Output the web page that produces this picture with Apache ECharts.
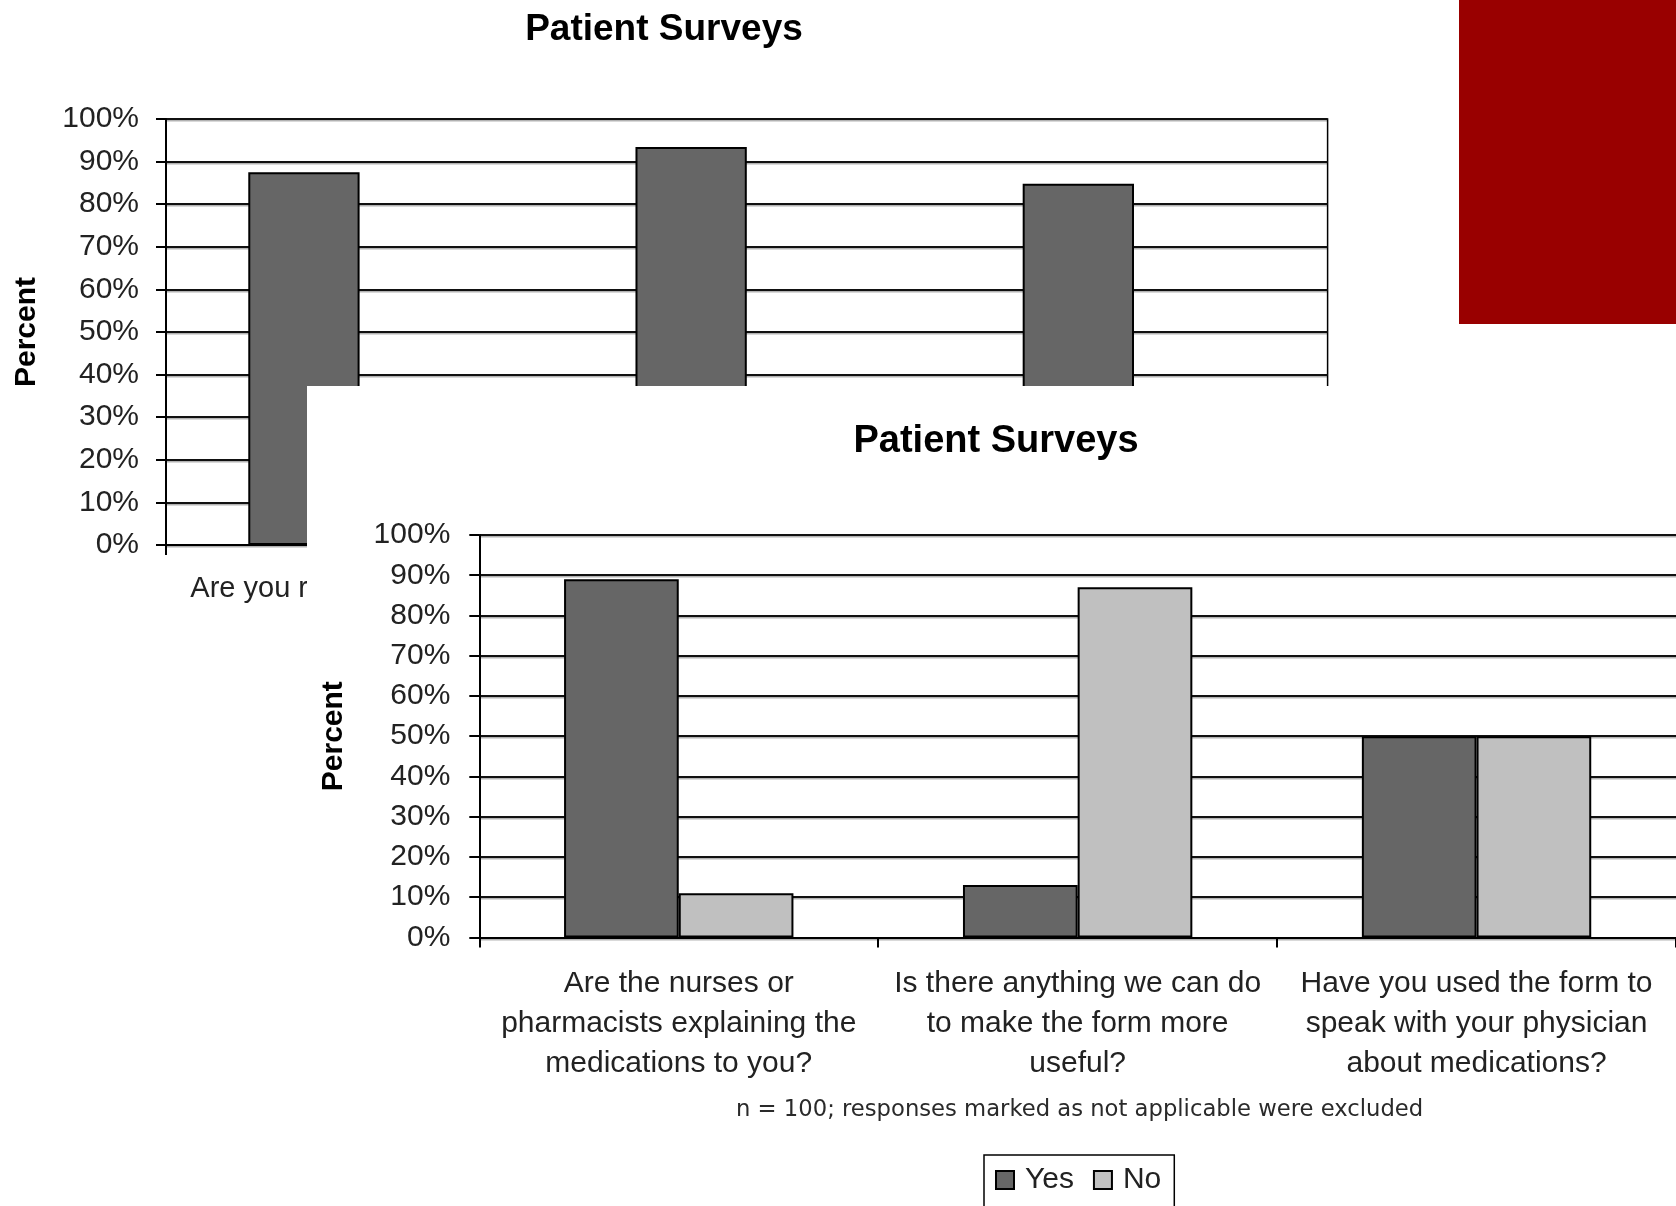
<!DOCTYPE html>
<html>
<head>
<meta charset="utf-8">
<title>Patient Surveys</title>
<script src="https://cdn.jsdelivr.net/npm/echarts@6/dist/echarts.min.js"></script>
<style>
  html, body { margin: 0; padding: 0; background: #fff; }
  body { width: 1676px; height: 1206px; position: relative; overflow: hidden; }
  #back { position: absolute; left: 0; top: 0; width: 1676px; height: 1206px; }
  #front { position: absolute; left: 307px; top: 386px; width: 1369px; height: 820px; background: #fff; }
</style>
</head>
<body>
<div id="back"></div>
<div id="front"></div>
<script>
// Earlier survey slide (partly covered by the newer one)
const backCategories = [
  'Are you receiving the form',
  'Is the form easy to read',
  'Do you find the form helpful'
];
const backYes = [87.5, 93.4, 84.8];
const backNo = [12.5, 6.6, 15.2];

// Current survey slide
const frontCategories = [
  'Are the nurses or\npharmacists explaining the\nmedications to you?',
  'Is there anything we can do\nto make the form more\nuseful?',
  'Have you used the form to\nspeak with your physician\nabout medications?'
];
const frontYes = [89, 13, 50];
const frontNo = [11, 87, 50];

const seriesNames = ['Yes', 'No'];
const chartTitle = 'Patient Surveys';
const axisName = 'Percent';
const footnote = 'n = 100; responses marked as not applicable were excluded';

const FONT = '"Liberation Sans", Arial, sans-serif';
const YES_COLOR = '#666666';
const NO_COLOR = '#c0c0c0';

function barSeries(name, data, color) {
  return {
    type: 'bar',
    name: name,
    data: data,
    barGap: '0%',
    barCategoryGap: '42.5%',
    itemStyle: { color: color, borderColor: '#000', borderWidth: 2 }
  };
}

function valueAxis(labelMargin, nameGap) {
  return {
    type: 'value',
    min: 0,
    max: 100,
    interval: 10,
    axisLine: { show: true, lineStyle: { color: '#000', width: 2 } },
    axisTick: { show: true, length: 10, lineStyle: { color: '#000', width: 2 } },
    axisLabel: { formatter: '{value}%', margin: labelMargin, fontSize: 30, color: '#222', fontFamily: FONT },
    splitLine: {
      show: true,
      lineStyle: { color: '#111', width: 2.2, shadowColor: 'rgba(0,0,0,0.3)', shadowOffsetY: 1.5 }
    },
    name: axisName,
    nameLocation: 'middle',
    nameRotate: 90,
    nameGap: nameGap,
    nameTextStyle: { fontSize: 30, fontWeight: 'bold', color: '#000', fontFamily: FONT }
  };
}

function categoryAxis(cats, labelMargin, fontSize) {
  return {
    type: 'category',
    data: cats,
    axisLine: { show: true, lineStyle: { color: '#000', width: 2 } },
    axisTick: { show: true, length: 10, lineStyle: { color: '#000', width: 2 } },
    axisLabel: { interval: 0, margin: labelMargin, fontSize: fontSize, lineHeight: 40, color: '#222', fontFamily: FONT }
  };
}

const back = echarts.init(document.getElementById('back'), null, { renderer: 'canvas' });
back.setOption({
  animation: false,
  backgroundColor: '#fff',
  title: {
    text: chartTitle,
    left: 659,
    top: 6,
    textAlign: 'center',
    textStyle: { fontSize: 37, fontWeight: 'bold', color: '#000', fontFamily: FONT }
  },
  grid: {
    left: 166, top: 119, width: 1161.6, height: 426,
    show: true, borderColor: '#000', borderWidth: 1.5, backgroundColor: 'transparent'
  },
  xAxis: categoryAxis(backCategories, 24, 29),
  yAxis: valueAxis(27, 124),
  series: [
    barSeries(seriesNames[0], backYes, YES_COLOR),
    barSeries(seriesNames[1], backNo, NO_COLOR)
  ],
  graphic: [{
    type: 'rect',
    shape: { x: 1459, y: 0, width: 217, height: 324 },
    style: { fill: '#990000' }
  }]
});

const front = echarts.init(document.getElementById('front'), null, { renderer: 'canvas' });
front.setOption({
  animation: false,
  backgroundColor: '#fff',
  title: {
    text: chartTitle,
    left: 684,
    top: 32,
    textAlign: 'center',
    textStyle: { fontSize: 38, fontWeight: 'bold', color: '#000', fontFamily: FONT }
  },
  legend: {
    data: seriesNames,
    left: 677,
    top: 769,
    icon: 'rect',
    itemWidth: 18,
    itemHeight: 18,
    itemGap: 19,
    padding: [10, 13, 14, 11],
    borderColor: '#000',
    borderWidth: 1.5,
    textStyle: { fontSize: 30, color: '#222', fontFamily: FONT, padding: [0, 0, 0, 6] }
  },
  grid: { left: 172.3, top: 149, width: 1200, height: 402.4 },
  xAxis: categoryAxis(frontCategories, 26, 30),
  yAxis: valueAxis(29, 131),
  series: [
    barSeries(seriesNames[0], frontYes, YES_COLOR),
    barSeries(seriesNames[1], frontNo, NO_COLOR)
  ],
  graphic: [{
    type: 'text',
    x: 772.6,
    y: 724.5,
    style: {
      text: footnote,
      textAlign: 'center',
      textVerticalAlign: 'middle',
      font: '22.7px "DejaVu Sans", sans-serif',
      fill: '#2a2a2a'
    }
  }]
});
</script>
</body>
</html>
